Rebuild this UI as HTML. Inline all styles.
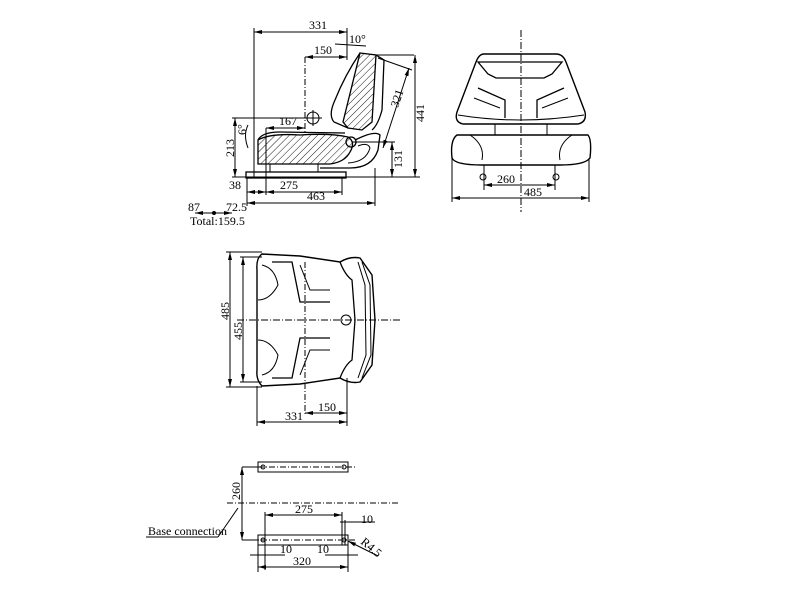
<!DOCTYPE html>
<html><head><meta charset="utf-8"><style>
html,body{margin:0;padding:0;background:#fff;width:800px;height:600px;overflow:hidden}
svg{display:block}
text{font-family:"Liberation Serif",serif;font-size:12px;fill:#000}
</style></head><body>
<svg width="800" height="600" viewBox="0 0 800 600" xmlns="http://www.w3.org/2000/svg">
<defs>
<pattern id="h" width="5" height="5" patternUnits="userSpaceOnUse" patternTransform="rotate(45)"><line x1="0" y1="0" x2="0" y2="5" stroke="#000" stroke-width="0.9"/></pattern>
<marker id="a" markerWidth="8" markerHeight="6" refX="8" refY="3" orient="auto-start-reverse" markerUnits="userSpaceOnUse"><path d="M0,1 L8,3 L0,5z" fill="#000"/></marker>
</defs>
<g stroke="#000" stroke-width="1" fill="none">
<!-- SIDE VIEW -->
<line x1="254" y1="28" x2="254" y2="178"/>
<line x1="347" y1="28" x2="347" y2="60"/>
<line x1="254" y1="32" x2="347" y2="32" marker-start="url(#a)" marker-end="url(#a)"/>
<line x1="305" y1="57" x2="305" y2="135" stroke-dasharray="6,2,1,2"/>
<line x1="305" y1="57" x2="347" y2="57" marker-start="url(#a)" marker-end="url(#a)"/>
<line x1="335" y1="44" x2="366" y2="46"/>
<!-- backrest -->
<path d="M360,53 L376,55 L372,122 L362,130 L348,128 L343,122 Z" fill="url(#h)" stroke-width="1.3"/>
<path d="M360,53 Q345,75 335,100 Q328,115 334,122 L348,128" stroke-width="1.3"/>
<path d="M376,55 L384,60 L382,110 Q378,125 372,130" stroke-width="1.3"/>
<path d="M376,55 L414,55"/>
<line x1="415" y1="55" x2="415" y2="177" marker-start="url(#a)" marker-end="url(#a)"/>
<line x1="378" y1="58" x2="412" y2="70"/>
<line x1="409" y1="68" x2="383" y2="148" marker-start="url(#a)" marker-end="url(#a)"/>
<!-- seat -->
<path d="M258,140 Q270,133 300,135 Q330,133 348,137 Q356,142 350,152 Q345,162 330,164 L258,164 Z" fill="url(#h)" stroke-width="1.3"/>
<path d="M258,140 Q262,132 280,132 L345,133" stroke-width="1.3"/>
<circle cx="351" cy="142" r="5" stroke-width="1.3"/>
<path d="M355,140 Q375,130 380,135 L378,150 Q372,168 350,168 L320,168" stroke-width="1.3"/>
<path d="M358,146 Q368,142 370,148 Q366,162 348,163"/>
<circle cx="313" cy="118" r="6"/><line x1="305" y1="118" x2="322" y2="118"/><line x1="313" y1="110" x2="313" y2="126"/>
<rect x="246" y="172" width="100" height="6" stroke-width="1.3"/>
<line x1="270" y1="164" x2="270" y2="172"/><line x1="318" y1="164" x2="318" y2="172"/>
<line x1="232" y1="118" x2="305" y2="118"/>
<line x1="235" y1="118" x2="235" y2="177" marker-start="url(#a)" marker-end="url(#a)"/>
<line x1="232" y1="177" x2="420" y2="177"/>
<line x1="266" y1="128" x2="305" y2="128" marker-start="url(#a)" marker-end="url(#a)"/>
<line x1="266" y1="128" x2="266" y2="195"/>
<line x1="352" y1="142" x2="395" y2="142"/>
<line x1="392" y1="142" x2="392" y2="177" marker-start="url(#a)" marker-end="url(#a)"/>
<path d="M248,125 Q243,135 248,148"/>
<line x1="247" y1="178" x2="247" y2="206"/><line x1="342" y1="178" x2="342" y2="195"/><line x1="375" y1="168" x2="375" y2="206"/>
<line x1="247" y1="192" x2="266" y2="192" marker-start="url(#a)" marker-end="url(#a)"/>
<line x1="266" y1="192" x2="342" y2="192" marker-start="url(#a)" marker-end="url(#a)"/>
<line x1="247" y1="203" x2="375" y2="203" marker-start="url(#a)" marker-end="url(#a)"/>
<line x1="195" y1="213" x2="232" y2="213" marker-start="url(#a)" marker-end="url(#a)"/>
<circle cx="214" cy="213" r="1.5" fill="#000"/>
<!-- FRONT VIEW -->
<line x1="521" y1="30" x2="521" y2="212" stroke-dasharray="7,2,1,2"/>
<path d="M484,54 L556,54 Q563,54 566,62 L585,112 Q587,122 578,124 L463,124 Q454,122 457,112 L476,62 Q479,54 484,54 Z" stroke-width="1.4"/>
<path d="M478,62 L562,62 L552,74 L544,78 L496,78 L488,74 Z" stroke-width="1.3"/>
<path d="M478,88 L505,100 L505,118 M564,88 L537,100 L537,118" stroke-width="1.3"/>
<path d="M474,98 L500,108 M568,98 L542,108"/>
<path d="M458,115 Q520,125 584,115"/>
<path d="M457,135 L588,135 Q592,140 590,158 Q585,165 560,165 L482,165 Q455,165 452,158 Q450,140 457,135 Z" stroke-width="1.4"/>
<path d="M470,135 Q485,145 482,160 M572,135 Q557,145 560,160"/>
<path d="M495,124 L495,135 M547,124 L547,135"/>
<line x1="484" y1="165" x2="484" y2="190"/><line x1="555" y1="165" x2="555" y2="190"/>
<circle cx="483" cy="177" r="3"/><circle cx="556" cy="177" r="3"/>
<line x1="484" y1="185" x2="555" y2="185" marker-start="url(#a)" marker-end="url(#a)"/>
<line x1="452" y1="158" x2="452" y2="202"/><line x1="589" y1="158" x2="589" y2="202"/>
<line x1="452" y1="198" x2="589" y2="198" marker-start="url(#a)" marker-end="url(#a)"/>
<!-- TOP VIEW -->
<line x1="237" y1="320" x2="400" y2="320" stroke-dasharray="7,2,1,2"/>
<line x1="305" y1="262" x2="305" y2="415" stroke-dasharray="6,2,1,2"/>
<path d="M262,254 L300,256 L340,262 Q350,256 360,258 L372,275 L375,320 L372,365 L360,382 Q350,384 340,378 L300,384 L262,386 Q256,380 257,370 L257,270 Q256,258 262,254 Z" stroke-width="1.4"/>
<path d="M340,262 Q345,275 352,280 L355,320 L352,360 Q345,365 340,378" stroke-width="1.3"/>
<path d="M358,262 L365,285 L366,355 L358,378 M362,262 L370,285 L371,355 L362,378"/>
<path d="M272,262 L292,262 L300,302 L330,302 M272,378 L292,378 L300,338 L330,338" stroke-width="1.3"/>
<path d="M300,265 L310,290 L330,290 M300,375 L310,350 L330,350"/>
<path d="M262,265 Q275,268 278,285 Q270,300 258,300 M262,375 Q275,372 278,355 Q270,340 258,340"/>
<circle cx="346" cy="320" r="5"/>
<line x1="226" y1="252" x2="262" y2="252"/><line x1="226" y1="387" x2="262" y2="387"/>
<line x1="230" y1="252" x2="230" y2="387" marker-start="url(#a)" marker-end="url(#a)"/>
<line x1="240" y1="257" x2="262" y2="257"/><line x1="240" y1="382" x2="262" y2="382"/>
<line x1="243" y1="257" x2="243" y2="382" marker-start="url(#a)" marker-end="url(#a)"/>
<line x1="257" y1="386" x2="257" y2="426"/><line x1="347" y1="378" x2="347" y2="426"/>
<line x1="305" y1="413" x2="347" y2="413" marker-start="url(#a)" marker-end="url(#a)"/>
<line x1="257" y1="422" x2="347" y2="422" marker-start="url(#a)" marker-end="url(#a)"/>
<!-- BASE -->
<rect x="258" y="462" width="90" height="10"/>
<line x1="258" y1="467" x2="355" y2="467" stroke-dasharray="6,2,1,2"/>
<circle cx="263" cy="467" r="2"/><circle cx="344" cy="467" r="2"/>
<line x1="227" y1="503" x2="398" y2="503" stroke-dasharray="6,2,1,2"/>
<rect x="258" y="535" width="90" height="10"/>
<line x1="250" y1="540" x2="355" y2="540" stroke-dasharray="6,2,1,2"/>
<circle cx="263" cy="540" r="2"/><circle cx="344" cy="540" r="2"/>
<line x1="242" y1="467" x2="258" y2="467"/><line x1="242" y1="540" x2="258" y2="540"/>
<line x1="242" y1="467" x2="242" y2="540" marker-start="url(#a)" marker-end="url(#a)"/>
<line x1="265" y1="512" x2="265" y2="570"/><line x1="342" y1="512" x2="342" y2="545"/><line x1="345" y1="520" x2="345" y2="545"/>
<line x1="258" y1="545" x2="258" y2="572"/><line x1="348" y1="545" x2="348" y2="572"/>
<line x1="265" y1="515" x2="342" y2="515" marker-start="url(#a)" marker-end="url(#a)"/>
<line x1="340" y1="522" x2="375" y2="522"/>
<line x1="250" y1="555" x2="285" y2="555"/><line x1="325" y1="555" x2="358" y2="555"/>
<line x1="258" y1="567" x2="348" y2="567" marker-start="url(#a)" marker-end="url(#a)"/>
<line x1="378" y1="556" x2="348" y2="541" marker-end="url(#a)"/>
<path d="M218,537 L238,508"/><line x1="146" y1="537" x2="218" y2="537"/>
</g>
<text x="309" y="29">331</text>
<text x="314" y="54">150</text>
<text x="349" y="43" font-size="11">10°</text>
<text x="279" y="125">167</text>
<text x="280" y="189">275</text>
<text x="229" y="189">38</text>
<text x="307" y="200">463</text>
<text x="188" y="211" font-size="11">87</text>
<text x="226" y="211" font-size="11">72.5</text>
<text x="190" y="225" font-size="11">Total:159.5</text>
<text transform="translate(234,157) rotate(-90)">213</text>
<text transform="translate(246,135) rotate(-90)" font-size="10">6°</text>
<text transform="translate(402,168) rotate(-90)">131</text>
<text transform="translate(424,122) rotate(-90)">441</text>
<text transform="translate(398,108) rotate(-72)">321</text>
<text x="497" y="183">260</text>
<text x="524" y="196">485</text>
<text transform="translate(229,320) rotate(-90)">485</text>
<text transform="translate(242,340) rotate(-90)">455</text>
<text x="318" y="411">150</text>
<text x="285" y="420">331</text>
<text transform="translate(240,500) rotate(-90)">260</text>
<text x="295" y="513">275</text>
<text x="361" y="523">10</text>
<text x="280" y="553">10</text>
<text x="317" y="553">10</text>
<text x="293" y="565">320</text>
<text transform="translate(360,543) rotate(40)" font-size="11">R4.5</text>
<text x="148" y="535" font-size="11">Base connection</text>
</svg>
</body></html>
